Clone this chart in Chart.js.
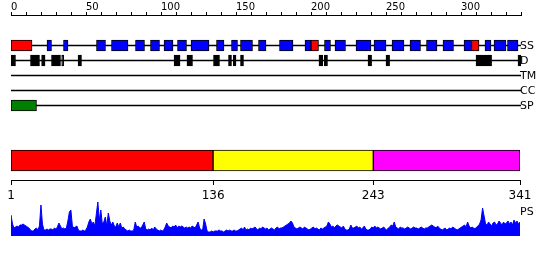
<!DOCTYPE html>
<html>
<head>
<meta charset="utf-8">
<script src="https://cdn.jsdelivr.net/npm/chart.js@4/dist/chart.umd.min.js"></script>
<style>
  body { margin: 0; background: #fff; width: 550px; height: 260px; position: relative; overflow: hidden; font-family: "DejaVu Sans", sans-serif; }
  canvas { position: absolute; left: 0; }
  .lbl { position: absolute; left: 520px; font-size: 11px; line-height: 15px; color: #000; }
</style>
</head>
<body>
<canvas id="topAxis" width="550" height="20" style="top:0"></canvas>
<canvas id="tracks" width="550" height="90" style="top:30px"></canvas>
<canvas id="domains" width="550" height="64" style="top:140px"></canvas>
<canvas id="ps" width="550" height="42" style="top:198px"></canvas>
<div id="labels"></div>
<script>
// sequence + feature tracks (residue positions, 0-based)
const SEQ_LEN = 341;
const TRACKS = ['SS', 'D', 'TM', 'CC', 'SP'];

const helix = [[24, 27], [35, 38], [57, 63], [67, 78], [83, 89], [93, 99], [102, 108], [111, 117],
  [120, 132], [137, 142], [147, 151], [153, 161], [165, 170], [179, 188], [196, 200], [209, 213],
  [216, 223], [230, 240], [242, 250], [254, 262], [266, 273], [277, 284], [288, 295], [302, 307],
  [316, 320], [322, 330], [331, 338]];
const strand = [[0, 14], [200, 205], [307, 312]];
const disorder = [[0, 3], [13, 19], [20.4, 22.7], [27, 33], [33.8, 35.1], [44.7, 47], [108.7, 112.7],
  [117.3, 121], [135, 139], [145, 147], [148.2, 150], [153, 155], [205.3, 207.8], [208.9, 211],
  [238, 240.4], [250, 252.4], [310, 320.4], [338, 339.8]];
const signalPeptide = [[0, 17]];

// domains (1-based)
const domainStart = [1, 136, 243];
const domainEnd = [136, 243, 341];
const domainTicks = [1, 136, 243, 341];

// PS profile, one value per residue
const psValues = [
  21, 12, 8, 9, 10, 9, 11, 11, 12, 11,
  10, 9, 8, 6, 5, 5, 7, 8, 6, 10,
  31, 12, 6, 6, 7, 6, 7, 7, 6, 8,
  7, 9, 13, 10, 7, 8, 7, 8, 15, 24,
  26, 10, 8, 9, 10, 6, 5, 5, 6, 5,
  6, 9, 14, 17, 12, 14, 10, 22, 34, 16,
  26, 12, 14, 19, 10, 23, 15, 11, 14, 10,
  9, 13, 9, 13, 8, 9, 7, 6, 5, 6,
  5, 5, 6, 14, 9, 10, 8, 8, 11, 14,
  7, 6, 7, 6, 8, 6, 9, 7, 6, 5,
  6, 5, 6, 9, 13, 10, 9, 8, 10, 9,
  11, 8, 10, 9, 10, 9, 8, 9, 8, 9,
  8, 10, 9, 8, 11, 14, 8, 6, 6, 17,
  12, 5, 4, 4, 5, 4, 5, 5, 5, 6,
  5, 5, 4, 5, 6, 5, 6, 5, 5, 6,
  5, 5, 6, 7, 8, 6, 9, 6, 7, 6,
  8, 7, 8, 9, 7, 6, 8, 7, 9, 8,
  7, 8, 6, 7, 8, 7, 6, 8, 9, 7,
  8, 8, 9, 10, 11, 12, 13, 15, 13, 9,
  8, 7, 8, 9, 8, 7, 9, 8, 7, 6,
  7, 8, 9, 7, 8, 7, 6, 8, 7, 8,
  9, 10, 14, 12, 9, 10, 8, 10, 11, 10,
  9, 8, 10, 7, 6, 6, 7, 11, 8, 8,
  9, 10, 8, 9, 7, 8, 10, 7, 6, 6,
  7, 9, 8, 10, 8, 9, 8, 7, 8, 9,
  7, 6, 8, 9, 11, 10, 14, 9, 8, 7,
  9, 8, 8, 7, 8, 9, 8, 7, 8, 9,
  8, 8, 7, 8, 9, 8, 7, 8, 8, 9,
  10, 11, 10, 9, 8, 10, 8, 7, 6, 7,
  8, 6, 7, 8, 7, 9, 8, 7, 6, 7,
  8, 9, 10, 11, 9, 14, 10, 8, 9, 8,
  7, 9, 10, 12, 16, 28, 20, 12, 11, 14,
  12, 10, 13, 14, 11, 12, 15, 13, 11, 14,
  12, 13, 15, 12, 14, 11, 16, 13, 15, 12, 14
];

const DOMAIN_COLORS = ['#ff0000', '#ffff00', '#ff00ff'];

Chart.defaults.font.family = 'DejaVu Sans';
Chart.defaults.color = '#000';
Chart.defaults.animation = false;
Chart.defaults.responsive = false;
Chart.defaults.devicePixelRatio = 1;
Chart.defaults.events = [];
Chart.defaults.plugins.legend.display = false;
Chart.defaults.plugins.tooltip.enabled = false;

// top ruler
new Chart(document.getElementById('topAxis'), {
  type: 'line',
  data: { datasets: [] },
  options: {
    layout: { padding: { left: 11, right: 29, top: 0, bottom: 0 } },
    scales: {
      x: {
        type: 'linear', position: 'top', min: 0, max: SEQ_LEN - 1,
        afterFit: s => { s.height = 15; },
        ticks: {
          stepSize: 10, autoSkip: false, maxRotation: 0, align: 'start', padding: 0,
          font: { size: 10, lineHeight: 1 },
          callback: v => v % 50 === 0 ? v : ''
        },
        grid: { drawOnChartArea: false, tickLength: 3, color: '#000' },
        border: { color: '#000' }
      },
      y: { display: false }
    }
  }
});

function boxes(segs, track, color) {
  return {
    data: segs.map(s => ({ x: s, y: track })),
    backgroundColor: color, borderColor: '#000', borderWidth: 1,
    borderSkipped: false, barThickness: 11, grouped: false
  };
}

// feature tracks
new Chart(document.getElementById('tracks'), {
  type: 'bar',
  data: {
    labels: TRACKS,
    datasets: [
      boxes(helix, 'SS', '#0000ff'),
      boxes(strand, 'SS', '#ff0000'),
      boxes(disorder, 'D', '#000000'),
      boxes(signalPeptide, 'SP', '#008000'),
      {
        data: TRACKS.map(t => ({ x: [0, SEQ_LEN - 1], y: t })),
        backgroundColor: '#000', borderWidth: 0, barThickness: 1, grouped: false
      }
    ]
  },
  options: {
    indexAxis: 'y',
    layout: { padding: { left: 11, right: 29, top: 8, bottom: 7 } },
    scales: {
      x: { type: 'linear', min: 0, max: SEQ_LEN - 1, display: false },
      y: { display: false }
    }
  }
});

// domain bar + axis
new Chart(document.getElementById('domains'), {
  type: 'bar',
  data: {
    labels: ['domains'],
    datasets: [{
      data: domainStart.map((s, i) => ({ x: [s, domainEnd[i]], y: 'domains' })),
      backgroundColor: DOMAIN_COLORS, borderColor: '#000', borderWidth: 1,
      borderSkipped: false, barThickness: 21, grouped: false
    }]
  },
  options: {
    indexAxis: 'y',
    layout: { padding: { left: 11, right: 30, top: 1, bottom: 0 } },
    scales: {
      x: {
        type: 'linear', min: 1, max: SEQ_LEN,
        afterFit: s => { s.height = 24; },
        afterBuildTicks: s => { s.ticks = domainTicks.map(v => ({ value: v })); },
        ticks: { autoSkip: false, maxRotation: 0, padding: 4, font: { size: 12 } },
        grid: { drawOnChartArea: false, tickLength: 5, color: '#000' },
        border: { color: '#000' }
      },
      y: { display: false }
    }
  }
});

// PS profile
new Chart(document.getElementById('ps'), {
  type: 'line',
  data: {
    datasets: [{
      data: psValues.map((v, i) => ({ x: i + 1, y: v })),
      borderColor: '#0000ff', backgroundColor: '#0000ff', borderWidth: 1,
      pointRadius: 0, fill: 'origin', tension: 0
    }]
  },
  options: {
    layout: { padding: { left: 11, right: 30, top: 3, bottom: 4 } },
    scales: {
      x: { type: 'linear', min: 1, max: SEQ_LEN, display: false },
      y: { min: 0, max: 35, display: false }
    }
  }
});

// track names
const labelsEl = document.getElementById('labels');
TRACKS.forEach((t, i) => {
  const d = document.createElement('div');
  d.className = 'lbl';
  d.style.top = (38 + i * 15) + 'px';
  d.textContent = t;
  labelsEl.appendChild(d);
});
const ps = document.createElement('div');
ps.className = 'lbl';
ps.style.top = '204px';
ps.textContent = 'PS';
labelsEl.appendChild(ps);
</script>
</body>
</html>
